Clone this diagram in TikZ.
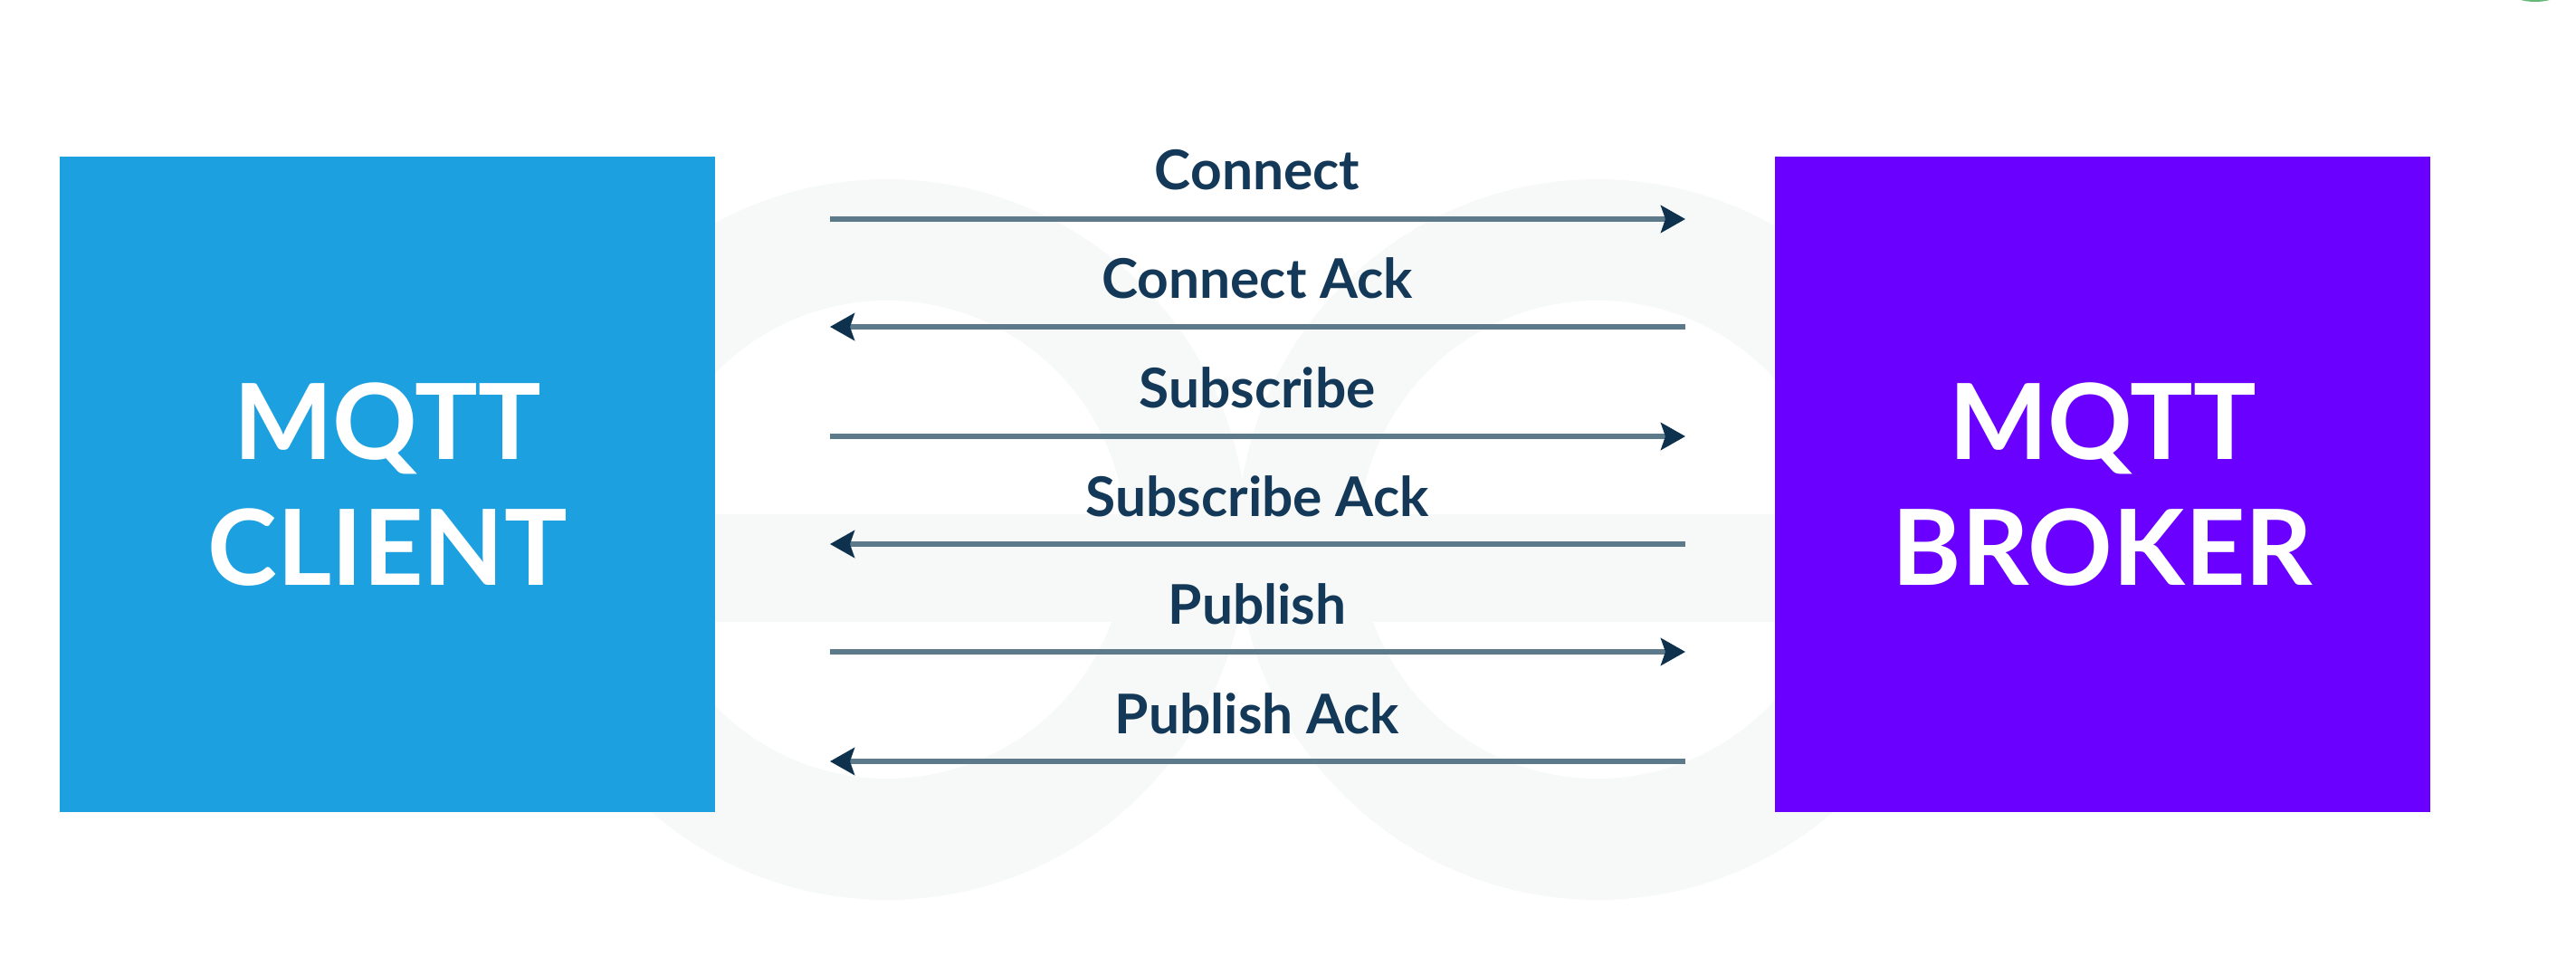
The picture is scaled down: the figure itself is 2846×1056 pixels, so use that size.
\documentclass[tikz,border=0pt]{standalone}
\usepackage{fontspec}
\setmainfont{Lato}
\usetikzlibrary{arrows.meta}
\definecolor{clientblue}{RGB}{29,160,224}
\definecolor{brokerpurple}{RGB}{106,0,255}
\definecolor{navy}{RGB}{20,56,88}
\definecolor{linegray}{RGB}{92,122,138}
\definecolor{tipnavy}{RGB}{14,50,78}
\definecolor{wm}{RGB}{247,249,249}
\definecolor{gfggreen}{RGB}{100,185,120}
\begin{document}
\begin{tikzpicture}[x=0.1mm,y=-0.1mm,
  bigbox/.style={minimum width=72.4mm, minimum height=72.4mm, inner sep=0pt,
    text=white, align=center, font=\bfseries\fontsize{33}{39.5}\selectfont},
  msg/.style={line width=0.65mm, draw=linegray,
    -{Stealth[length=2.7mm, width=3mm, inset=0.5mm, color=tipnavy]}},
  lbl/.style={anchor=base, inner sep=0pt, text=navy,
    font=\bfseries\fontsize{17.2}{19}\selectfont}]
\useasboundingbox (0,0) rectangle (2846,1056);
\clip (0,0) rectangle (2846,1056);
% faint watermark
\fill[wm, even odd rule] (980,596) circle[radius=39.8mm] (980,596) circle[radius=26.4mm];
\fill[wm, even odd rule] (1765,596) circle[radius=39.8mm] (1765,596) circle[radius=26.4mm];
\fill[wm] (620,568) rectangle (2130,687);
% green corner mark
\fill[gfggreen] (2801,-63) circle[radius=6.5mm];
% boxes
\node[bigbox, fill=clientblue] (client) at (428,535) {MQTT\\CLIENT};
\node[bigbox, fill=brokerpurple] (broker) at (2323,535) {MQTT\\BROKER};
% message end points
\coordinate (a1) at (917,242);  \coordinate (b1) at (1862,242);
\coordinate (a2) at (917,361);  \coordinate (b2) at (1862,361);
\coordinate (a3) at (917,482);  \coordinate (b3) at (1862,482);
\coordinate (a4) at (917,601);  \coordinate (b4) at (1862,601);
\coordinate (a5) at (917,720);  \coordinate (b5) at (1862,720);
\coordinate (a6) at (917,841);  \coordinate (b6) at (1862,841);
\draw[msg] (a1) -- (b1);
\draw[msg] (b2) -- (a2);
\draw[msg] (a3) -- (b3);
\draw[msg] (b4) -- (a4);
\draw[msg] (a5) -- (b5);
\draw[msg] (b6) -- (a6);
\node[lbl] (l1) at (1389,210) {Connect};
\node[lbl] (l2) at (1389,330) {Connect Ack};
\node[lbl] (l3) at (1389,451) {Subscribe};
\node[lbl] (l4) at (1389,570) {Subscribe Ack};
\node[lbl] (l5) at (1389,689) {Publish};
\node[lbl] (l6) at (1389,810) {Publish Ack};
\end{tikzpicture}
\end{document}
